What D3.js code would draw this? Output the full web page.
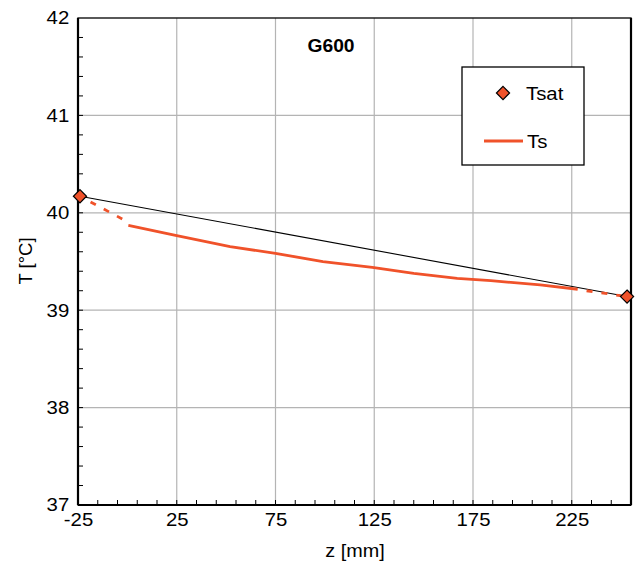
<!DOCTYPE html>
<html>
<head>
<meta charset="utf-8">
<script src="https://cdn.jsdelivr.net/npm/d3@7"></script>
<style>
  body { margin: 0; background: #fff; }
  svg text { font-family: "Liberation Sans", Arial, sans-serif; }
</style>
</head>
<body>
<div id="chart"></div>
<script>
// data
var zTsat = [-24, 253];
var Tsat = [40.17, 39.14];

var zTs = [0.5, 25, 52, 75, 99, 124, 145, 167, 184, 209, 228];
var Ts = [39.87, 39.765, 39.652, 39.584, 39.498, 39.44, 39.379, 39.327, 39.303, 39.259, 39.215];

// dotted extensions of Ts toward the Tsat points
var zTsLeft = [-24, -2];
var TsLeft = [40.17, 39.93];
var zTsRight = [229, 253];
var TsRight = [39.21, 39.14];

var xTicks = [-25, 25, 75, 125, 175, 225];
var yTicks = [37, 38, 39, 40, 41, 42];

// chart parameters
var svgWidth = 635;
var svgHeight = 564;
var margin = { top: 18, right: 4, bottom: 59, left: 78 };
var width = svgWidth - margin.left - margin.right;
var height = svgHeight - margin.top - margin.bottom;
var red = "#f0522a";
var stretch = 1.1;  // the reference text is a bit wide

var svg = d3.select("#chart")
    .append("svg")
    .attr("width", svgWidth)
    .attr("height", svgHeight);

var chart = svg.append("g")
    .attr("transform", `translate(${margin.left}, ${margin.top})`);

var xscale = d3.scaleLinear().domain([-25, 255]).range([0, width]);
var yscale = d3.scaleLinear().domain([37, 42]).range([height, 0]);

// grid
chart.append("g")
    .selectAll("line")
    .data(xTicks.slice(1))
    .enter().append("line")
    .attr("x1", d => xscale(d)).attr("x2", d => xscale(d))
    .attr("y1", 0).attr("y2", height)
    .attr("stroke", "#b4b4b4").attr("stroke-width", 1.2);
chart.append("g")
    .selectAll("line")
    .data(yTicks.slice(1, -1))
    .enter().append("line")
    .attr("x1", 0).attr("x2", width)
    .attr("y1", d => yscale(d)).attr("y2", d => yscale(d))
    .attr("stroke", "#b4b4b4").attr("stroke-width", 1.2);

// inner minor ticks
var xMinor = d3.range(-15, 255, 10);
var yMinor = d3.range(37.2, 42, 0.2);
chart.append("g")
    .selectAll("line")
    .data(xMinor)
    .enter().append("line")
    .attr("x1", d => xscale(d)).attr("x2", d => xscale(d))
    .attr("y1", height).attr("y2", height - 5)
    .attr("stroke", "#000").attr("stroke-width", 1);
chart.append("g")
    .selectAll("line")
    .data(yMinor)
    .enter().append("line")
    .attr("x1", 0).attr("x2", 5)
    .attr("y1", d => yscale(d)).attr("y2", d => yscale(d))
    .attr("stroke", "#000").attr("stroke-width", 1);

// axes
var fmt = d => String(d);
var bottomAxis = d3.axisBottom(xscale).tickValues(xTicks).tickFormat(fmt).tickSize(0).tickPadding(8);
var leftAxis = d3.axisLeft(yscale).tickValues(yTicks).tickFormat(fmt).tickSize(0).tickPadding(8);

var gx = chart.append("g")
    .attr("transform", `translate(0, ${height})`)
    .call(bottomAxis);
var gy = chart.append("g").call(leftAxis);
[gx, gy].forEach(function (g) {
    g.select(".domain").remove();
    g.selectAll("text")
        .attr("transform", `scale(${stretch},1)`)
        .style("font-size", "18.5px")
        .style("fill", "#000")
        .style("font-family", "Liberation Sans, Arial, sans-serif");
});

// plot frame
chart.append("rect")
    .attr("width", width).attr("height", height)
    .attr("fill", "none").attr("stroke", "#000").attr("stroke-width", 1.3);
chart.append("line")
    .attr("x1", 0).attr("x2", 0).attr("y1", 0).attr("y2", height)
    .attr("stroke", "#000").attr("stroke-width", 2.2);
chart.append("line")
    .attr("x1", 0).attr("x2", width).attr("y1", height).attr("y2", height)
    .attr("stroke", "#000").attr("stroke-width", 2.2);
chart.append("line")
    .attr("x1", width).attr("x2", width).attr("y1", 0).attr("y2", height)
    .attr("stroke", "#000").attr("stroke-width", 2.2);

var line = d3.line()
    .x(d => xscale(d[0]))
    .y(d => yscale(d[1]));

// thin black line between Tsat points
chart.append("path")
    .datum(d3.zip(zTsat, Tsat))
    .attr("d", line)
    .attr("fill", "none").attr("stroke", "#000").attr("stroke-width", 1.1);

// Ts
chart.append("path")
    .datum(d3.zip(zTs, Ts))
    .attr("d", line)
    .attr("fill", "none").attr("stroke", red).attr("stroke-width", 2.8);
[[d3.zip(zTsLeft, TsLeft), 3], [d3.zip(zTsRight, TsRight), 8]].forEach(function (seg) {
    chart.append("path")
        .datum(seg[0])
        .attr("d", line)
        .attr("fill", "none").attr("stroke", red).attr("stroke-width", 2.8)
        .attr("stroke-dasharray", "6,9")
        .attr("stroke-dashoffset", seg[1]);
});

// Tsat markers
var diamond = d3.symbol().type(d3.symbolDiamond2).size(110);
chart.selectAll(".tsat")
    .data(d3.zip(zTsat, Tsat))
    .enter().append("path")
    .attr("class", "tsat")
    .attr("d", diamond)
    .attr("transform", d => `translate(${xscale(d[0])}, ${yscale(d[1])})`)
    .attr("fill", red).attr("stroke", "#000").attr("stroke-width", 1.2);

// helper for the free texts, stretched like the reference
function label(x, y, txt, size, anchor, rot) {
    return svg.append("text")
        .attr("transform", `translate(${x}, ${y})` + (rot ? ` rotate(${rot})` : "") + ` scale(${rot ? 1 : stretch},1)`)
        .attr("text-anchor", anchor)
        .style("font-size", size + "px")
        .text(txt);
}

// title
label(331, 52, "G600", 17.5, "middle").style("font-weight", "bold");

// legend
var legend = svg.append("g");
legend.append("rect")
    .attr("x", 462).attr("y", 67).attr("width", 122).attr("height", 98)
    .attr("fill", "#fff").attr("stroke", "#000").attr("stroke-width", 1.3);
legend.append("path")
    .attr("d", diamond)
    .attr("transform", "translate(503, 93)")
    .attr("fill", red).attr("stroke", "#000").attr("stroke-width", 1.2);
legend.append("line")
    .attr("x1", 484).attr("x2", 523).attr("y1", 141).attr("y2", 141)
    .attr("stroke", red).attr("stroke-width", 2.8);
label(526, 100, "Tsat", 18.5, "start");
label(527, 148, "Ts", 18.5, "start");

// axis labels
label(355, 557, "z [mm]", 18, "middle");
label(32, 261, "T [°C]", 18.5, "middle", -90);
</script>
</body>
</html>
